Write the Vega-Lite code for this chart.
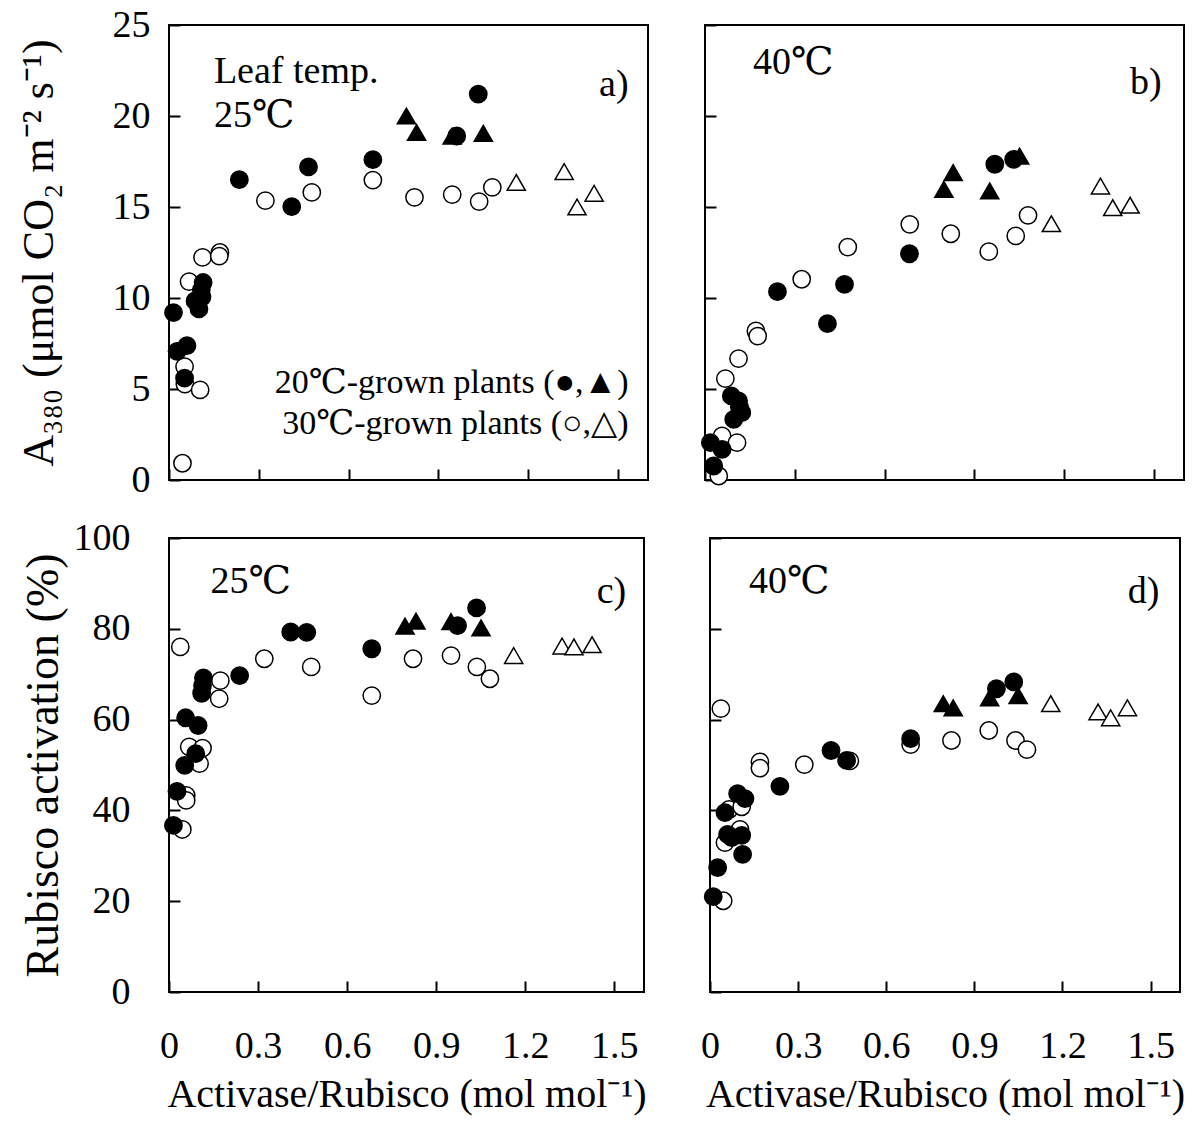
{
  "$schema": "https://vega.github.io/schema/vega-lite/v6.json",
  "background": "white",
  "padding": {"left": 15, "top": 5, "right": 10, "bottom": 5},
  "config": {
    "font": "Liberation Serif",
    "view": {"stroke": "black", "strokeWidth": 2},
    "axis": {
      "domain": false, "grid": false,
      "tickColor": "black", "tickWidth": 2, "tickSize": -11,
      "labelFont": "Liberation Serif", "labelFontSize": 38, "labelColor": "black",
      "titleFont": "Liberation Serif", "titleFontSize": 40, "titleFontWeight": "normal", "titleColor": "black"
    },
    "text": {"font": "Liberation Serif, DejaVu Serif", "color": "black"}
  },
  "datasets": {
    "pts": [
      {"p": "a", "g": "30", "s": "c", "x": 0.045, "y": 0.92},
      {"p": "a", "g": "30", "s": "c", "x": 0.052, "y": 6.23},
      {"p": "a", "g": "30", "s": "c", "x": 0.053, "y": 5.27},
      {"p": "a", "g": "30", "s": "c", "x": 0.104, "y": 4.95},
      {"p": "a", "g": "30", "s": "c", "x": 0.067, "y": 10.9},
      {"p": "a", "g": "30", "s": "c", "x": 0.112, "y": 12.23},
      {"p": "a", "g": "30", "s": "c", "x": 0.17, "y": 12.5},
      {"p": "a", "g": "30", "s": "c", "x": 0.168, "y": 12.3},
      {"p": "a", "g": "30", "s": "c", "x": 0.322, "y": 15.35},
      {"p": "a", "g": "30", "s": "c", "x": 0.477, "y": 15.8},
      {"p": "a", "g": "30", "s": "c", "x": 0.681, "y": 16.48},
      {"p": "a", "g": "30", "s": "c", "x": 0.82, "y": 15.53},
      {"p": "a", "g": "30", "s": "c", "x": 0.946, "y": 15.68},
      {"p": "a", "g": "30", "s": "c", "x": 1.036, "y": 15.3},
      {"p": "a", "g": "30", "s": "c", "x": 1.08, "y": 16.08},
      {"p": "a", "g": "30", "s": "t", "x": 1.16, "y": 16.35},
      {"p": "a", "g": "30", "s": "t", "x": 1.32, "y": 16.95},
      {"p": "a", "g": "30", "s": "t", "x": 1.363, "y": 15.0},
      {"p": "a", "g": "30", "s": "t", "x": 1.42, "y": 15.75},
      {"p": "a", "g": "20", "s": "c", "x": 0.015, "y": 9.2},
      {"p": "a", "g": "20", "s": "c", "x": 0.027, "y": 7.07},
      {"p": "a", "g": "20", "s": "c", "x": 0.06, "y": 7.38},
      {"p": "a", "g": "20", "s": "c", "x": 0.052, "y": 5.6},
      {"p": "a", "g": "20", "s": "c", "x": 0.087, "y": 9.84},
      {"p": "a", "g": "20", "s": "c", "x": 0.1, "y": 9.4},
      {"p": "a", "g": "20", "s": "c", "x": 0.11, "y": 10.05},
      {"p": "a", "g": "20", "s": "c", "x": 0.108, "y": 10.45},
      {"p": "a", "g": "20", "s": "c", "x": 0.114, "y": 10.85},
      {"p": "a", "g": "20", "s": "c", "x": 0.235, "y": 16.5},
      {"p": "a", "g": "20", "s": "c", "x": 0.41, "y": 15.02},
      {"p": "a", "g": "20", "s": "c", "x": 0.466, "y": 17.2},
      {"p": "a", "g": "20", "s": "c", "x": 0.681, "y": 17.6},
      {"p": "a", "g": "20", "s": "c", "x": 0.961, "y": 18.9},
      {"p": "a", "g": "20", "s": "c", "x": 1.033, "y": 21.2},
      {"p": "a", "g": "20", "s": "t", "x": 0.793, "y": 20.0},
      {"p": "a", "g": "20", "s": "t", "x": 0.827, "y": 19.1},
      {"p": "a", "g": "20", "s": "t", "x": 0.946, "y": 18.9},
      {"p": "a", "g": "20", "s": "t", "x": 1.05, "y": 19.05},

      {"p": "b", "g": "30", "s": "c", "x": 0.046, "y": 0.22},
      {"p": "b", "g": "30", "s": "c", "x": 0.057, "y": 2.42},
      {"p": "b", "g": "30", "s": "c", "x": 0.107, "y": 2.05},
      {"p": "b", "g": "30", "s": "c", "x": 0.068, "y": 5.57},
      {"p": "b", "g": "30", "s": "c", "x": 0.112, "y": 6.67},
      {"p": "b", "g": "30", "s": "c", "x": 0.17, "y": 8.19},
      {"p": "b", "g": "30", "s": "c", "x": 0.176, "y": 7.91},
      {"p": "b", "g": "30", "s": "c", "x": 0.323, "y": 11.03},
      {"p": "b", "g": "30", "s": "c", "x": 0.477, "y": 12.8},
      {"p": "b", "g": "30", "s": "c", "x": 0.684, "y": 14.05},
      {"p": "b", "g": "30", "s": "c", "x": 0.821, "y": 13.53},
      {"p": "b", "g": "30", "s": "c", "x": 0.948, "y": 12.55},
      {"p": "b", "g": "30", "s": "c", "x": 1.038, "y": 13.41},
      {"p": "b", "g": "30", "s": "c", "x": 1.079, "y": 14.54},
      {"p": "b", "g": "30", "s": "t", "x": 1.157, "y": 14.08},
      {"p": "b", "g": "30", "s": "t", "x": 1.321, "y": 16.15},
      {"p": "b", "g": "30", "s": "t", "x": 1.362, "y": 14.96},
      {"p": "b", "g": "30", "s": "t", "x": 1.42, "y": 15.1},
      {"p": "b", "g": "20", "s": "c", "x": 0.018, "y": 2.05},
      {"p": "b", "g": "20", "s": "c", "x": 0.057, "y": 1.68},
      {"p": "b", "g": "20", "s": "c", "x": 0.029, "y": 0.77},
      {"p": "b", "g": "20", "s": "c", "x": 0.088, "y": 4.62},
      {"p": "b", "g": "20", "s": "c", "x": 0.112, "y": 4.34},
      {"p": "b", "g": "20", "s": "c", "x": 0.115, "y": 4.0},
      {"p": "b", "g": "20", "s": "c", "x": 0.123, "y": 3.7},
      {"p": "b", "g": "20", "s": "c", "x": 0.096, "y": 3.33},
      {"p": "b", "g": "20", "s": "c", "x": 0.242, "y": 10.35},
      {"p": "b", "g": "20", "s": "c", "x": 0.409, "y": 8.59},
      {"p": "b", "g": "20", "s": "c", "x": 0.466, "y": 10.75},
      {"p": "b", "g": "20", "s": "c", "x": 0.683, "y": 12.43},
      {"p": "b", "g": "20", "s": "c", "x": 0.968, "y": 17.35},
      {"p": "b", "g": "20", "s": "c", "x": 1.031, "y": 17.62},
      {"p": "b", "g": "20", "s": "t", "x": 0.798, "y": 15.97},
      {"p": "b", "g": "20", "s": "t", "x": 0.829, "y": 16.89},
      {"p": "b", "g": "20", "s": "t", "x": 0.951, "y": 15.88},
      {"p": "b", "g": "20", "s": "t", "x": 1.051, "y": 17.8},

      {"p": "c", "g": "30", "s": "c", "x": 0.038, "y": 76.0},
      {"p": "c", "g": "30", "s": "c", "x": 0.045, "y": 35.8},
      {"p": "c", "g": "30", "s": "c", "x": 0.058, "y": 43.3},
      {"p": "c", "g": "30", "s": "c", "x": 0.058, "y": 42.2},
      {"p": "c", "g": "30", "s": "c", "x": 0.068, "y": 54.0},
      {"p": "c", "g": "30", "s": "c", "x": 0.113, "y": 53.7},
      {"p": "c", "g": "30", "s": "c", "x": 0.103, "y": 50.3},
      {"p": "c", "g": "30", "s": "c", "x": 0.173, "y": 68.6},
      {"p": "c", "g": "30", "s": "c", "x": 0.169, "y": 64.6},
      {"p": "c", "g": "30", "s": "c", "x": 0.321, "y": 73.4},
      {"p": "c", "g": "30", "s": "c", "x": 0.479, "y": 71.6},
      {"p": "c", "g": "30", "s": "c", "x": 0.683, "y": 65.3},
      {"p": "c", "g": "30", "s": "c", "x": 0.822, "y": 73.4},
      {"p": "c", "g": "30", "s": "c", "x": 0.95, "y": 74.1},
      {"p": "c", "g": "30", "s": "c", "x": 1.037, "y": 71.6},
      {"p": "c", "g": "30", "s": "c", "x": 1.081, "y": 69.0},
      {"p": "c", "g": "30", "s": "t", "x": 1.161, "y": 74.1},
      {"p": "c", "g": "30", "s": "t", "x": 1.324, "y": 76.2},
      {"p": "c", "g": "30", "s": "t", "x": 1.364, "y": 76.0},
      {"p": "c", "g": "30", "s": "t", "x": 1.425, "y": 76.5},
      {"p": "c", "g": "20", "s": "c", "x": 0.015, "y": 36.7},
      {"p": "c", "g": "20", "s": "c", "x": 0.027, "y": 44.2},
      {"p": "c", "g": "20", "s": "c", "x": 0.053, "y": 49.9},
      {"p": "c", "g": "20", "s": "c", "x": 0.056, "y": 60.4},
      {"p": "c", "g": "20", "s": "c", "x": 0.098, "y": 58.7},
      {"p": "c", "g": "20", "s": "c", "x": 0.09, "y": 52.5},
      {"p": "c", "g": "20", "s": "c", "x": 0.11, "y": 65.8},
      {"p": "c", "g": "20", "s": "c", "x": 0.113, "y": 67.5},
      {"p": "c", "g": "20", "s": "c", "x": 0.116, "y": 69.2},
      {"p": "c", "g": "20", "s": "c", "x": 0.238, "y": 69.7},
      {"p": "c", "g": "20", "s": "c", "x": 0.41, "y": 79.3},
      {"p": "c", "g": "20", "s": "c", "x": 0.464, "y": 79.2},
      {"p": "c", "g": "20", "s": "c", "x": 0.683, "y": 75.6},
      {"p": "c", "g": "20", "s": "c", "x": 0.972, "y": 80.7},
      {"p": "c", "g": "20", "s": "c", "x": 1.036, "y": 84.6},
      {"p": "c", "g": "20", "s": "t", "x": 0.795, "y": 80.6},
      {"p": "c", "g": "20", "s": "t", "x": 0.832, "y": 81.7},
      {"p": "c", "g": "20", "s": "t", "x": 0.95, "y": 81.6},
      {"p": "c", "g": "20", "s": "t", "x": 1.051, "y": 80.2},

      {"p": "d", "g": "30", "s": "c", "x": 0.037, "y": 62.4},
      {"p": "d", "g": "30", "s": "c", "x": 0.045, "y": 20.1},
      {"p": "d", "g": "30", "s": "c", "x": 0.051, "y": 32.9},
      {"p": "d", "g": "30", "s": "c", "x": 0.065, "y": 40.2},
      {"p": "d", "g": "30", "s": "c", "x": 0.108, "y": 40.8},
      {"p": "d", "g": "30", "s": "c", "x": 0.102, "y": 35.8},
      {"p": "d", "g": "30", "s": "c", "x": 0.17, "y": 50.7},
      {"p": "d", "g": "30", "s": "c", "x": 0.17, "y": 49.3},
      {"p": "d", "g": "30", "s": "c", "x": 0.321, "y": 50.1},
      {"p": "d", "g": "30", "s": "c", "x": 0.476, "y": 50.9},
      {"p": "d", "g": "30", "s": "c", "x": 0.683, "y": 54.5},
      {"p": "d", "g": "30", "s": "c", "x": 0.822, "y": 55.4},
      {"p": "d", "g": "30", "s": "c", "x": 0.949, "y": 57.6},
      {"p": "d", "g": "30", "s": "c", "x": 1.04, "y": 55.4},
      {"p": "d", "g": "30", "s": "c", "x": 1.079, "y": 53.4},
      {"p": "d", "g": "30", "s": "t", "x": 1.16, "y": 63.5},
      {"p": "d", "g": "30", "s": "t", "x": 1.321, "y": 61.7},
      {"p": "d", "g": "30", "s": "t", "x": 1.364, "y": 60.4},
      {"p": "d", "g": "30", "s": "t", "x": 1.421, "y": 62.6},
      {"p": "d", "g": "20", "s": "c", "x": 0.011, "y": 21.0},
      {"p": "d", "g": "20", "s": "c", "x": 0.026, "y": 27.4},
      {"p": "d", "g": "20", "s": "c", "x": 0.051, "y": 39.5},
      {"p": "d", "g": "20", "s": "c", "x": 0.06, "y": 34.7},
      {"p": "d", "g": "20", "s": "c", "x": 0.074, "y": 34.0},
      {"p": "d", "g": "20", "s": "c", "x": 0.094, "y": 43.7},
      {"p": "d", "g": "20", "s": "c", "x": 0.119, "y": 42.6},
      {"p": "d", "g": "20", "s": "c", "x": 0.108, "y": 34.5},
      {"p": "d", "g": "20", "s": "c", "x": 0.111, "y": 30.3},
      {"p": "d", "g": "20", "s": "c", "x": 0.238, "y": 45.3},
      {"p": "d", "g": "20", "s": "c", "x": 0.412, "y": 53.2},
      {"p": "d", "g": "20", "s": "c", "x": 0.465, "y": 51.0},
      {"p": "d", "g": "20", "s": "c", "x": 0.683, "y": 55.8},
      {"p": "d", "g": "20", "s": "c", "x": 0.975, "y": 66.8},
      {"p": "d", "g": "20", "s": "c", "x": 1.034, "y": 68.3},
      {"p": "d", "g": "20", "s": "t", "x": 0.794, "y": 63.5},
      {"p": "d", "g": "20", "s": "t", "x": 0.828, "y": 62.6},
      {"p": "d", "g": "20", "s": "t", "x": 0.952, "y": 64.8},
      {"p": "d", "g": "20", "s": "t", "x": 1.049, "y": 65.3}
    ]
  },
  "spacing": 18,
  "vconcat": [
    {
      "bounds": "flush",
      "spacing": 57,
      "hconcat": [
        {
          "width": 479, "height": 455,
          "layer": [
            {
              "data": {"name": "pts"},
              "transform": [{"filter": "datum.p == 'a'"}],
              "mark": {"type": "point", "filled": true, "opacity": 1, "stroke": "black", "strokeWidth": 1.5},
              "encoding": {
                "x": {"field": "x", "type": "quantitative", "scale": {"domain": [0, 1.6], "nice": false, "zero": false},
                      "axis": {"values": [0, 0.3, 0.6, 0.9, 1.2, 1.5], "labels": false, "title": null}},
                "y": {"field": "y", "type": "quantitative", "scale": {"domain": [0, 25], "nice": false},
                      "axis": {"values": [0, 5, 10, 15, 20, 25], "labelPadding": 30, "title": "A₃₈₀ (μmol CO₂ m⁻² s⁻¹)", "titleFontSize": 44,
                               "titleX": -130, "titleY": 227.5, "titleAngle": -90, "titleAlign": "center", "titleBaseline": "middle"}},
                "shape": {"field": "s", "type": "nominal", "scale": {"domain": ["c", "t"], "range": ["circle", "triangle-up"]}, "legend": null},
                "size": {"field": "s", "type": "nominal", "scale": {"domain": ["c", "t"], "range": [300, 330]}, "legend": null},
                "fill": {"field": "g", "type": "nominal", "scale": {"domain": ["20", "30"], "range": ["black", "white"]}, "legend": null}
              }
            },
            {"data": {"values": [{}]}, "mark": {"type": "text", "text": "Leaf temp.", "align": "left", "baseline": "middle", "fontSize": 38},
             "encoding": {"x": {"datum": 0.15}, "y": {"datum": 22.4}}},
            {"data": {"values": [{}]}, "mark": {"type": "text", "text": "25℃", "align": "left", "baseline": "middle", "fontSize": 38},
             "encoding": {"x": {"datum": 0.15}, "y": {"datum": 20.0}}},
            {"data": {"values": [{}]}, "mark": {"type": "text", "text": "a)", "align": "right", "baseline": "middle", "fontSize": 38},
             "encoding": {"x": {"datum": 1.535}, "y": {"datum": 21.7}}},
            {"data": {"values": [{}]}, "mark": {"type": "text", "text": "20℃-grown plants (●,▲)", "align": "right", "baseline": "middle", "fontSize": 34},
             "encoding": {"x": {"datum": 1.535}, "y": {"datum": 5.35}}},
            {"data": {"values": [{}]}, "mark": {"type": "text", "text": "30℃-grown plants (○,△)", "align": "right", "baseline": "middle", "fontSize": 34},
             "encoding": {"x": {"datum": 1.535}, "y": {"datum": 3.1}}}
          ]
        },
        {
          "width": 479, "height": 455,
          "layer": [
            {
              "data": {"name": "pts"},
              "transform": [{"filter": "datum.p == 'b'"}],
              "mark": {"type": "point", "filled": true, "opacity": 1, "stroke": "black", "strokeWidth": 1.5},
              "encoding": {
                "x": {"field": "x", "type": "quantitative", "scale": {"domain": [0, 1.6], "nice": false, "zero": false},
                      "axis": {"values": [0, 0.3, 0.6, 0.9, 1.2, 1.5], "labels": false, "title": null}},
                "y": {"field": "y", "type": "quantitative", "scale": {"domain": [0, 25], "nice": false},
                      "axis": {"values": [0, 5, 10, 15, 20, 25], "labels": false, "title": null}},
                "shape": {"field": "s", "type": "nominal", "scale": {"domain": ["c", "t"], "range": ["circle", "triangle-up"]}, "legend": null},
                "size": {"field": "s", "type": "nominal", "scale": {"domain": ["c", "t"], "range": [300, 330]}, "legend": null},
                "fill": {"field": "g", "type": "nominal", "scale": {"domain": ["20", "30"], "range": ["black", "white"]}, "legend": null}
              }
            },
            {"data": {"values": [{}]}, "mark": {"type": "text", "text": "40℃", "align": "left", "baseline": "middle", "fontSize": 38},
             "encoding": {"x": {"datum": 0.16}, "y": {"datum": 22.9}}},
            {"data": {"values": [{}]}, "mark": {"type": "text", "text": "b)", "align": "right", "baseline": "middle", "fontSize": 38},
             "encoding": {"x": {"datum": 1.525}, "y": {"datum": 21.8}}}
          ]
        }
      ]
    },
    {
      "bounds": "flush",
      "spacing": 66,
      "hconcat": [
        {
          "width": 475, "height": 454,
          "layer": [
            {
              "data": {"name": "pts"},
              "transform": [{"filter": "datum.p == 'c'"}],
              "mark": {"type": "point", "filled": true, "opacity": 1, "stroke": "black", "strokeWidth": 1.5},
              "encoding": {
                "x": {"field": "x", "type": "quantitative", "scale": {"domain": [0, 1.6], "nice": false, "zero": false},
                      "axis": {"values": [0, 0.3, 0.6, 0.9, 1.2, 1.5], "labelExpr": "datum.value === 0 ? '0' : format(datum.value, '.1f')",
                               "labelBaseline": "middle", "labelPadding": 65, "labelFlush": false,
                               "title": "Activase/Rubisco (mol mol⁻¹)", "titleX": 237.5, "titleY": 102, "titleAlign": "center", "titleBaseline": "middle"}},
                "y": {"field": "y", "type": "quantitative", "scale": {"domain": [0, 100], "nice": false},
                      "axis": {"values": [0, 20, 40, 60, 80, 100], "labelPadding": 50, "title": "Rubisco activation (%)", "titleFontSize": 46,
                               "titleX": -126, "titleY": 227, "titleAngle": -90, "titleAlign": "center", "titleBaseline": "middle"}},
                "shape": {"field": "s", "type": "nominal", "scale": {"domain": ["c", "t"], "range": ["circle", "triangle-up"]}, "legend": null},
                "size": {"field": "s", "type": "nominal", "scale": {"domain": ["c", "t"], "range": [300, 330]}, "legend": null},
                "fill": {"field": "g", "type": "nominal", "scale": {"domain": ["20", "30"], "range": ["black", "white"]}, "legend": null}
              }
            },
            {"data": {"values": [{}]}, "mark": {"type": "text", "text": "25℃", "align": "left", "baseline": "middle", "fontSize": 38},
             "encoding": {"x": {"datum": 0.14}, "y": {"datum": 90.3}}},
            {"data": {"values": [{}]}, "mark": {"type": "text", "text": "c)", "align": "right", "baseline": "middle", "fontSize": 38},
             "encoding": {"x": {"datum": 1.54}, "y": {"datum": 88.0}}}
          ]
        },
        {
          "width": 470, "height": 454,
          "layer": [
            {
              "data": {"name": "pts"},
              "transform": [{"filter": "datum.p == 'd'"}],
              "mark": {"type": "point", "filled": true, "opacity": 1, "stroke": "black", "strokeWidth": 1.5},
              "encoding": {
                "x": {"field": "x", "type": "quantitative", "scale": {"domain": [0, 1.6], "nice": false, "zero": false},
                      "axis": {"values": [0, 0.3, 0.6, 0.9, 1.2, 1.5], "labelExpr": "datum.value === 0 ? '0' : format(datum.value, '.1f')",
                               "labelBaseline": "middle", "labelPadding": 65, "labelFlush": false,
                               "title": "Activase/Rubisco (mol mol⁻¹)", "titleX": 235, "titleY": 102, "titleAlign": "center", "titleBaseline": "middle"}},
                "y": {"field": "y", "type": "quantitative", "scale": {"domain": [0, 100], "nice": false},
                      "axis": {"values": [0, 20, 40, 60, 80, 100], "labels": false, "title": null}},
                "shape": {"field": "s", "type": "nominal", "scale": {"domain": ["c", "t"], "range": ["circle", "triangle-up"]}, "legend": null},
                "size": {"field": "s", "type": "nominal", "scale": {"domain": ["c", "t"], "range": [300, 330]}, "legend": null},
                "fill": {"field": "g", "type": "nominal", "scale": {"domain": ["20", "30"], "range": ["black", "white"]}, "legend": null}
              }
            },
            {"data": {"values": [{}]}, "mark": {"type": "text", "text": "40℃", "align": "left", "baseline": "middle", "fontSize": 38},
             "encoding": {"x": {"datum": 0.133}, "y": {"datum": 90.3}}},
            {"data": {"values": [{}]}, "mark": {"type": "text", "text": "d)", "align": "right", "baseline": "middle", "fontSize": 38},
             "encoding": {"x": {"datum": 1.53}, "y": {"datum": 88.0}}}
          ]
        }
      ]
    }
  ]
}
